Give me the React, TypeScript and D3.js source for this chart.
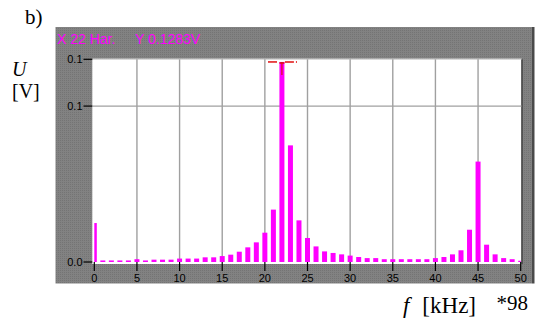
import React from "react";
import * as d3 from "d3";

const harmonics = [0,1,2,3,4,5,6,7,8,9,10,11,12,13,14,15,16,17,18,19,20,21,22,23,24,25,26,27,28,29,30,31,32,33,34,35,36,37,38,39,40,41,42,43,44,45,46,47,48,49,50];
const values = [0.025, 0.001, 0.001, 0.001, 0.001, 0.0018, 0.001, 0.0015, 0.0015, 0.0015,
  0.0022, 0.0022, 0.0022, 0.003, 0.003, 0.0038, 0.0047, 0.0066, 0.0094, 0.0126,
  0.0188, 0.0336, 0.1283, 0.0748, 0.0267, 0.0154, 0.0100, 0.0068, 0.0058, 0.0049,
  0.0041, 0.0032, 0.0025, 0.0025, 0.0018, 0.0018, 0.0018, 0.0018, 0.0018, 0.0018,
  0.0025, 0.0032, 0.0049, 0.0075, 0.0207, 0.0644, 0.0111, 0.0049, 0.0025, 0.0018, 0.0008];
const xTicks = [0, 5, 10, 15, 20, 25, 30, 35, 40, 45, 50];
const yTicks = [0, 0.1, 0.13];
const cursorHarmonic = 22;
const headerX = "X 22 Har.";
const headerY = "Y 0.1283V";

export default function App() {
  const W = 538, H = 324;
  const plotL = 92.3, plotR = 521.5, plotT = 59.3, plotB = 262;
  const x = d3.scaleLinear().domain([0, 50]).range([94.3, 520.7]);
  const y = d3.scaleLinear().domain([0, 0.13]).range([plotB, plotT]);
  const fmt = d3.format(".1f");
  const barW = 5;
  const sans = "'Liberation Sans', Arial, sans-serif";
  const serif = "'Liberation Serif', 'Times New Roman', serif";
  const cx = x(cursorHarmonic);
  const cy = y(values[harmonics.indexOf(cursorHarmonic)]);

  return (
    <svg width={W} height={H} style={{ position: "absolute", left: 0, top: 0 }}>
      <defs>
        <pattern id="dots" width="2" height="2" patternUnits="userSpaceOnUse">
          <rect width="2" height="2" fill="#828282" />
          <rect width="1" height="1" fill="#747474" />
        </pattern>
        <clipPath id="barclip">
          <rect x={x(0)} y={plotT} width={x(50) - x(0)} height={plotB - plotT + 1} />
        </clipPath>
      </defs>
      <rect x={0} y={0} width={W} height={H} fill="#fff" />
      {/* instrument panel */}
      <rect x={55.5} y={27} width={476.5} height={256.5} fill="url(#dots)" />
      <rect x={532} y={27} width={2.5} height={256.5} fill="#4a4a4a" />
      {/* plot area */}
      <rect x={plotL} y={plotT} width={plotR - plotL} height={plotB - plotT + 2} fill="#fff" />
      <line x1={plotR + 0.5} x2={plotR + 0.5} y1={plotT} y2={plotB + 2} stroke="#444" strokeWidth={1.5} />
      <line x1={plotL} x2={plotR} y1={plotT - 0.3} y2={plotT - 0.3} stroke="#d8d8d8" strokeWidth={1} />
      {/* grid */}
      {xTicks.filter(t => t > 0 && t < 50).map(t => (
        <line key={"gx" + t} x1={x(t)} x2={x(t)} y1={plotT} y2={plotB} stroke="#a0a0a0" strokeWidth={1.4} />
      ))}
      <line x1={plotL} x2={plotR} y1={y(0.1)} y2={y(0.1)} stroke="#a0a0a0" strokeWidth={1.4} />
      {/* bars */}
      <g clipPath="url(#barclip)">
        {harmonics.map((h, i) => (
          <rect key={"b" + h} x={x(h) - barW / 2} y={y(values[i])} width={barW} height={plotB - y(values[i])} fill="#ff00ff" />
        ))}
      </g>
      {/* cursor */}
      <line x1={268} x2={cx - 3} y1={cy} y2={cy} stroke="#e01010" strokeWidth={1.5} strokeDasharray="9,2" />
      <line x1={cx + 3} x2={297} y1={cy} y2={cy} stroke="#e01010" strokeWidth={1.5} strokeDasharray="9,2" />
      <line x1={cx - 2.5} x2={cx + 2.5} y1={cy + 1} y2={cy + 1} stroke="#e01010" strokeWidth={1.5} />
      <line x1={cx} x2={cx} y1={cy} y2={cy + 13} stroke="#e01010" strokeWidth={1.2} />
      {/* y axis ticks */}
      {yTicks.map(t => (
        <g key={"yt" + t}>
          <line x1={83.5} x2={plotL} y1={y(t)} y2={y(t)} stroke="#000" strokeWidth={1.2} />
          <text x={82.5} y={y(t) + 4} textAnchor="end" fontFamily={sans} fontSize={11} fill="#000">{fmt(t)}</text>
        </g>
      ))}
      {/* x axis ticks */}
      {xTicks.map(t => (
        <g key={"xt" + t}>
          <line x1={x(t)} x2={x(t)} y1={plotB} y2={plotB + 9} stroke="#000" strokeWidth={1.2} />
          <text x={x(t)} y={plotB + 20} textAnchor="middle" fontFamily={sans} fontSize={11} fill="#000">{t}</text>
        </g>
      ))}
      {/* header */}
      <text x={57} y={44} fontFamily={sans} fontSize={14} fill="#ff00ff">{headerX}</text>
      <text x={135} y={44} fontFamily={sans} fontSize={14} fill="#ff00ff">{headerY}</text>
      {/* outer labels */}
      <text x={25} y={24} fontFamily={serif} fontSize={21} fill="#000">b)</text>
      <text x={12} y={76} fontFamily={serif} fontSize={20} fontStyle="italic" fill="#000">U</text>
      <text x={12} y={98} fontFamily={serif} fontSize={20} fill="#000">[V]</text>
      <text x={403} y={313} fontFamily={serif} fontSize={23} fontStyle="italic" fill="#000">f</text>
      <text x={476} y={313} textAnchor="end" fontFamily={serif} fontSize={23} fill="#000">[kHz]</text>
      <text x={528} y={310} textAnchor="end" fontFamily={serif} fontSize={21} fill="#000">*98</text>
    </svg>
  );
}
